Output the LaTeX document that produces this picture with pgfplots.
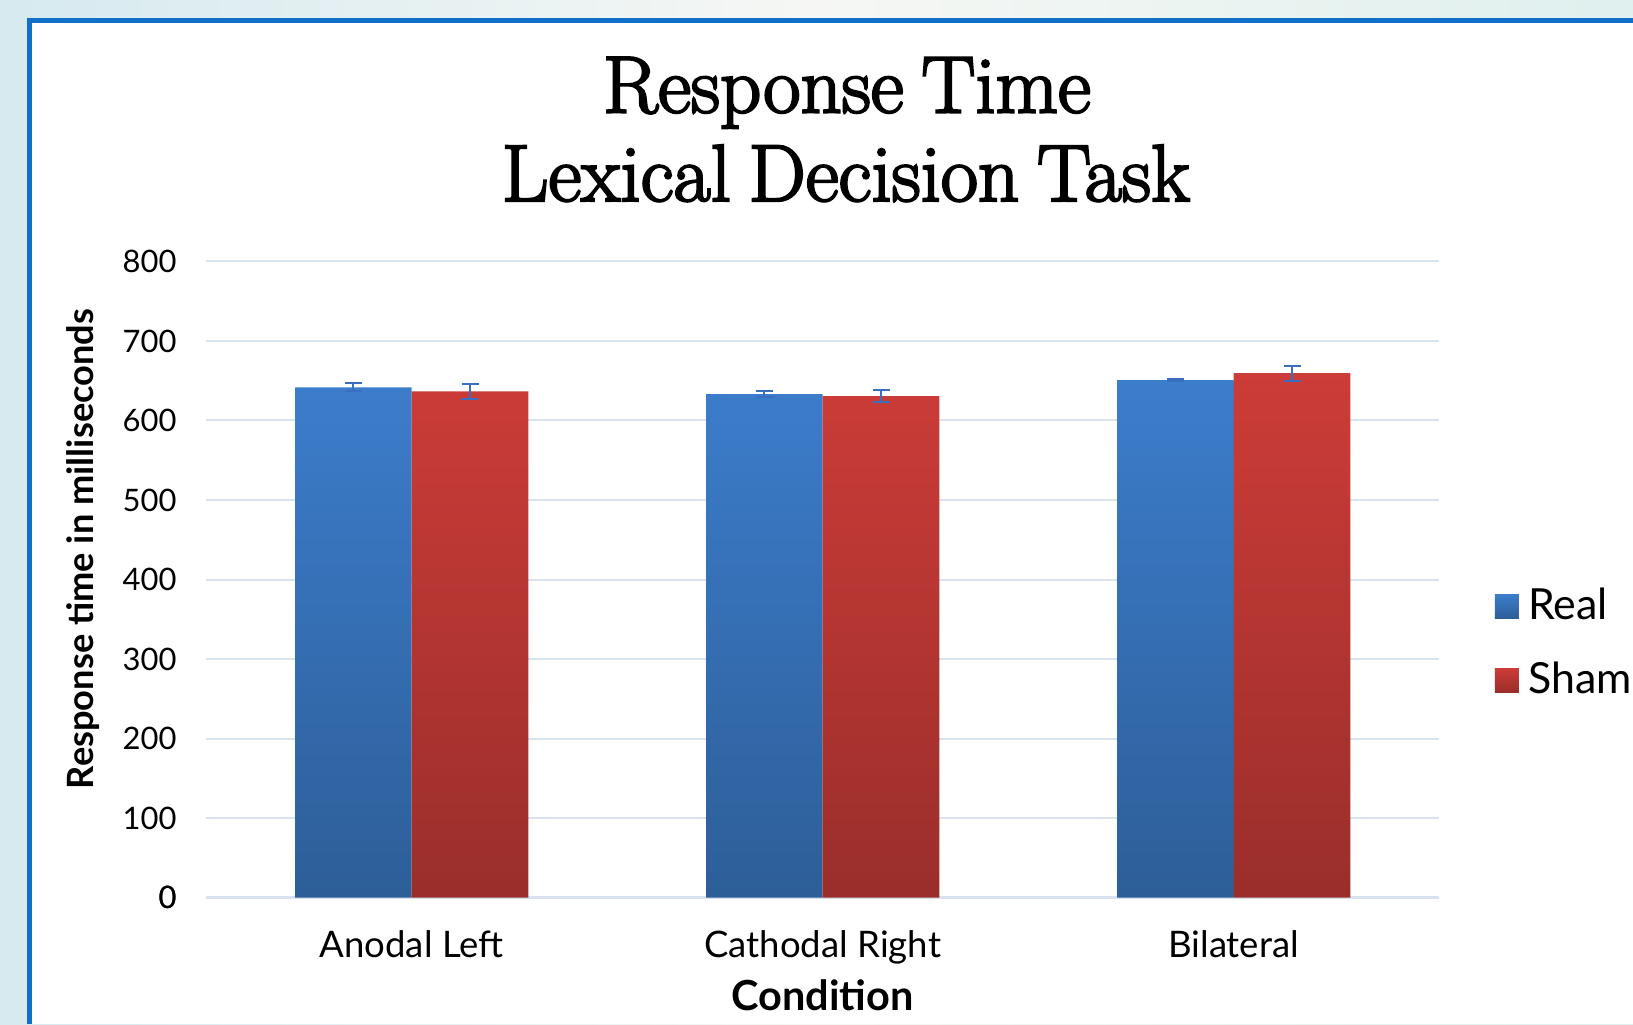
\documentclass[border=0pt]{standalone}
\usepackage{pgfplots}
\pgfplotsset{compat=1.18}
\usepackage{fontspec}
\setsansfont{Lato}
\newfontfamily\lato{Lato}
\newfontfamily\titlefont[FakeBold=2.8]{Latin Modern Roman}
\newcommand\tfont{\titlefont\fontsize{23pt}{26pt}\selectfont\spaceskip=0.22em\relax}
\definecolor{frameblue}{HTML}{1070C8}
\definecolor{bgA}{HTML}{D6EAF0}
\definecolor{bgB}{HTML}{F6F7F4}
\definecolor{bgC}{HTML}{DFF0EE}
\definecolor{realtop}{HTML}{3C7DCC}
\definecolor{realbot}{HTML}{2D5E98}
\definecolor{shamtop}{HTML}{CC3C38}
\definecolor{shambot}{HTML}{9A2E2B}
\definecolor{errblue}{HTML}{3A6FC0}
\definecolor{gridc}{HTML}{D9E3EF}
\pgfplotstableread{
x val err
0 641.5 5
1 633 3.8
2 650.8 1.5
}\realtab
\pgfplotstableread{
x val err
0 636.5 9
1 630.5 7.3
2 659.5 9.4
}\shamtab
\begin{document}
\begin{tikzpicture}
\useasboundingbox (0,0) rectangle (163.3mm,102.4mm);
\shade[left color=bgA, right color=bgC, middle color=bgB] (0,0) rectangle (163.3mm,102.4mm);
\fill[white] (3.2mm,0) rectangle (163.3mm,100.1mm);
\draw[frameblue, line width=0.5mm] (2.95mm,0) -- (2.95mm,100.35mm) -- (163.5mm,100.35mm);
\node[anchor=base, inner sep=0pt] at (84.7mm,91.15mm) {\tfont Response Time};
\node[anchor=base, inner sep=0pt] at (84.6mm,82.3mm) {\tfont Lexical Decision Task};
\begin{axis}[
  at={(20.62mm,12.63mm)}, anchor=south west,
  scale only axis, width=123.3mm, height=63.63mm,
  xmin=-0.5, xmax=2.5, ymin=0, ymax=800,
  ytick={0,100,...,800},
  xtick={0,1,2}, xticklabels={Anodal Left, Cathodal Right, Bilateral},
  axis line style={draw=none},
  major tick length=0pt,
  ymajorgrids, grid style={gridc, line width=0.2mm},
  extra y ticks={0}, extra y tick style={grid style={gridc, line width=0.25mm}},
  /pgf/number format/assume math mode=true,
  yticklabel style={font=\lato\fontsize{8.8pt}{10pt}\selectfont, inner sep=0pt, anchor=east, xshift=-2.9mm},
  xticklabel style={font=\lato\fontsize{10.4pt}{11pt}\selectfont, inner sep=0pt, anchor=base, yshift=-6.0mm},
  ylabel={Response time in milliseconds},
  xlabel={Condition},
  every axis y label/.style={at={(axis description cs:-0.0995,0.548)}, rotate=90, anchor=center, font=\lato\bfseries\fontsize{10.3pt}{11pt}\selectfont},
  every axis x label/.style={at={(axis description cs:0.5,0)}, anchor=base, yshift=-11.3mm, font=\lato\bfseries\fontsize{11.8pt}{13pt}\selectfont, inner sep=0pt},
  ybar=0pt, bar width=11.66mm,
  legend style={at={(axis description cs:1.0446,0.40)}, anchor=west, draw=none, fill=none,
    font=\lato\fontsize{12.2pt}{14pt}\selectfont, row sep=2.3mm, inner sep=0pt,
    /tikz/every odd column/.style={column sep=0.25mm}},
  legend cell align=left,
  legend image code/.code={\fill[#1] (0mm,-1.2mm) rectangle (2.4mm,1.2mm);},
]
\addplot[draw=none, top color=realtop, bottom color=realbot,
  error bars/.cd, y dir=both, y explicit,
  error bar style={errblue, line width=0.2mm},
  error mark options={errblue, line width=0.2mm, mark size=0.85mm, rotate=90}]
  table[x=x, y=val, y error=err] {\realtab};
\addplot[draw=none, top color=shamtop, bottom color=shambot,
  error bars/.cd, y dir=both, y explicit,
  error bar style={errblue, line width=0.2mm},
  error mark options={errblue, line width=0.2mm, mark size=0.85mm, rotate=90}]
  table[x=x, y=val, y error=err] {\shamtab};
\legend{Real, Sham}
\end{axis}
\end{tikzpicture}
\end{document}
